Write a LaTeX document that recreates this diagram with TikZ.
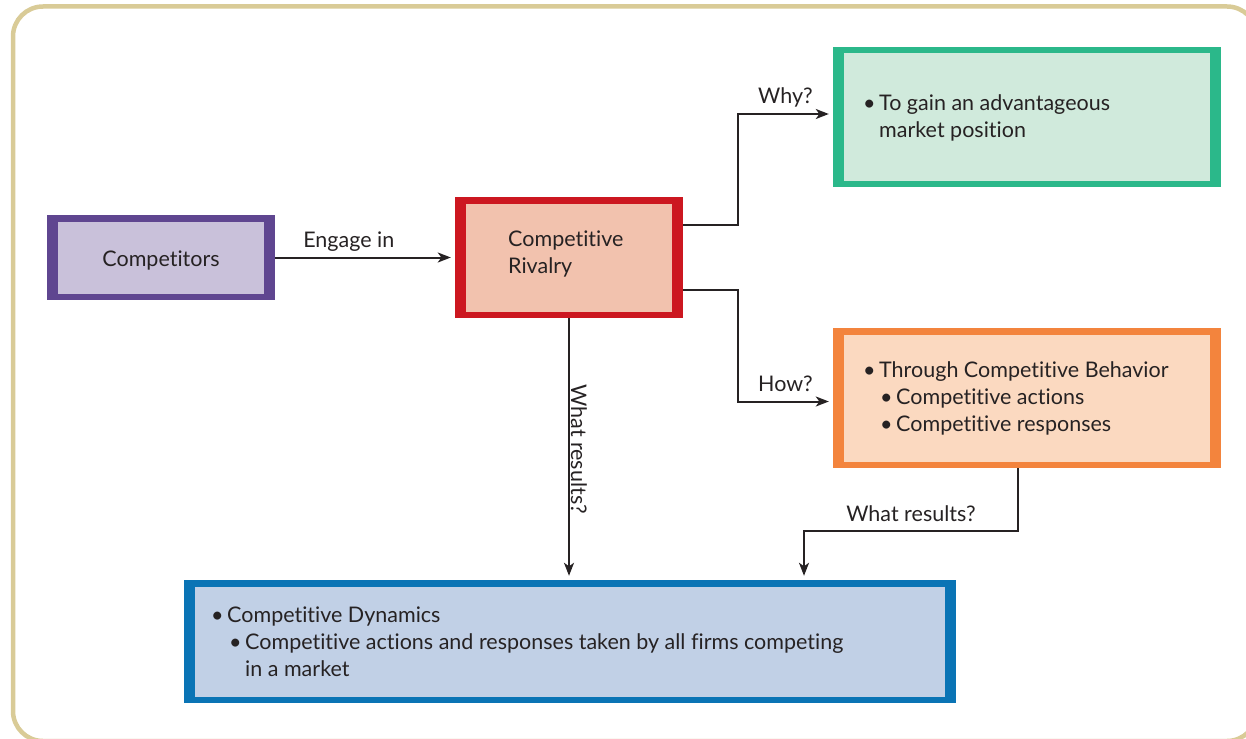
\documentclass[tikz,border=0pt]{standalone}
\usepackage{fontspec}
\setmainfont{Lato}[Ligatures=NoCommon]
\usetikzlibrary{positioning, calc, arrows.meta}

\definecolor{framec}{HTML}{D9CB97}
\definecolor{ink}{HTML}{262223}
\definecolor{compline}{HTML}{5F4690}
\definecolor{compfill}{HTML}{C9C1DA}
\definecolor{rivline}{HTML}{CC1720}
\definecolor{rivfill}{HTML}{F2C2AE}
\definecolor{whyline}{HTML}{2BB88A}
\definecolor{whyfill}{HTML}{D0EADC}
\definecolor{howline}{HTML}{F3843D}
\definecolor{howfill}{HTML}{FBD9C0}
\definecolor{dynline}{HTML}{0A74B5}
\definecolor{dynfill}{HTML}{C1D0E6}

\newcommand{\bul}{\makebox[16pt][l]{\textbullet}}

\tikzset{
  panel/.style 2 args={fill=#1, inner sep=0pt,
    path picture={\fill[#2] ($(path picture bounding box.south west)+(11pt,6.5pt)$) rectangle ($(path picture bounding box.north east)+(-11pt,-6.5pt)$);}},
  txt/.style={text=ink, font=\fontsize{21.5}{26.8}\selectfont, inner sep=0pt, align=left},
  lbl/.style={txt, anchor=base, yshift=10pt},
  flow/.style={draw=ink, line width=2pt, -{Stealth[length=13pt,width=10pt,inset=3.5pt]}, shorten >=4pt},
}

\begin{document}
\begin{tikzpicture}[x=1pt, y=-1pt]
  \useasboundingbox (0,0) rectangle (1246,738);
  \draw[framec, line width=4.5pt, rounded corners=30pt] (13,6.5) rectangle (1257,741);

  % boxes
  \node[panel={compline}{compfill}, minimum width=228pt, minimum height=85pt] (comp) at (161,257.5) {};
  \node[panel={rivline}{rivfill}, minimum width=228pt, minimum height=121pt] (riv) at (569,257.5) {};
  \node[panel={whyline}{whyfill}, minimum width=388pt, minimum height=140pt] (why) at (1027,117) {};
  \node[panel={howline}{howfill}, minimum width=388pt, minimum height=140pt] (how) at (1027,398) {};
  \node[panel={dynline}{dynfill}, minimum width=772pt, minimum height=123pt] (dyn) at (570,641.5) {};

  % texts (base = last line)
  \node[txt, anchor=base] (compt) at (161,266) {Competitors};
  \node[txt, anchor=base west] (rivt) at (508,273) {Competitive\\Rivalry};
  \node[txt, anchor=base west] (whyt) at (863,137.7) {\bul To gain an advantageous\\\hspace*{16pt}market position};
  \node[txt, anchor=base west] (howt) at (863,431) {\bul Through Competitive Behavior\\\hspace*{17pt}\bul Competitive actions\\\hspace*{17pt}\bul Competitive responses};
  \node[txt, anchor=base west] (dynt) at (211,676) {\bul Competitive Dynamics\\\hspace*{18pt}\bul Competitive actions and responses taken by all firms competing\\\hspace*{34pt}in a market};

  % connectors
  \draw[flow] (comp) -- (riv) node[lbl, pos=0.41] {Engage in};
  \draw[flow] ([yshift=32.5pt]riv.east) -- ++(55,0) |- ([yshift=3pt]why.west) node[lbl, pos=0.75] {Why?};
  \draw[flow] ([yshift=-32.5pt]riv.east) -- ++(55,0) |- ([yshift=-3.5pt]how.west) node[lbl, pos=0.75] {How?};
  \draw[flow] (riv.south) -- (riv.south |- dyn.north);
  \node[txt, rotate=-90] (res1) at (579,449) {What results?};
  \coordinate (bend) at (804,531);
  \draw[flow] ([xshift=-9pt]how.south) |- (bend) node[lbl, pos=0.75] {What results?} -- (bend |- dyn.north);
\end{tikzpicture}
\end{document}
